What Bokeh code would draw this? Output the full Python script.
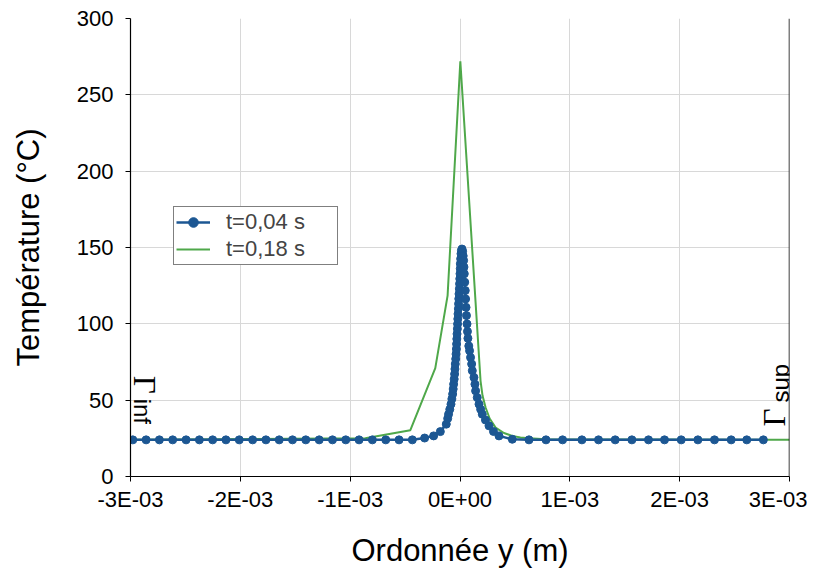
import numpy as np
from math import pi
from bokeh.plotting import figure
from bokeh.models import Range1d, Label, Legend, LegendItem, CustomJSTickFormatter, FixedTicker, Span
from bokeh.embed import file_html
from bokeh.resources import INLINE

# ---- data (position y in mm, temperature in °C) ----
y_blue_mm = [-2.979, -2.858, -2.737, -2.616, -2.494, -2.373, -2.252, -2.131, -2.010, -1.888,
             -1.767, -1.646, -1.525, -1.404, -1.282, -1.161, -1.040, -0.919, -0.798, -0.676,
             -0.555, -0.434, -0.322, -0.240, -0.179, -0.125,
             -0.112, -0.104, -0.093, -0.082, -0.074, -0.067, -0.062, -0.058, -0.053, -0.049,
             -0.046, -0.043, -0.039, -0.036, -0.033, -0.031, -0.029, -0.027, -0.024, -0.022,
             -0.020, -0.018, -0.015, -0.013, -0.011, -0.009, -0.006, -0.004, -0.002, 0.000,
             0.002, 0.003, 0.006, 0.009, 0.013, 0.018,
             0.024, 0.029, 0.033, 0.036, 0.039, 0.043, 0.048, 0.051, 0.055, 0.059,
             0.064, 0.068, 0.072, 0.080, 0.087, 0.096, 0.106, 0.112, 0.127, 0.136,
             0.142, 0.157, 0.173, 0.188, 0.203, 0.232, 0.264, 0.305, 0.355, 0.476,
             0.628, 0.783, 0.934, 1.110, 1.261, 1.413, 1.565, 1.716, 1.862, 2.014,
             2.166, 2.317, 2.469, 2.611, 2.762]
T_blue = [24, 24, 24, 24, 24, 24, 24, 24, 24, 24,
          24, 24, 24, 24, 24, 24, 24, 24, 24, 24,
          24, 24, 25.2, 26.6, 29.4, 34.3,
          38.0, 40.8, 44.0, 47.4, 50.8, 54.0, 57.3, 60.5, 63.8, 67.1,
          70.4, 73.7, 77.0, 80.2, 83.5, 86.8, 90.1, 93.4, 96.7, 99.9,
          103.2, 106.5, 109.8, 113.1, 116.4, 119.6, 122.9, 126.2, 129.5, 132.8,
          136.1, 139.3, 142.6, 145.9, 148.0, 149.0,
          147.5, 144.5, 141.5, 137.2, 132.8, 127.3, 121.8, 116.3, 110.8, 105.4,
          99.9, 95.0, 90.5, 85.5, 82.4, 78.0, 73.7, 69.3, 64.9, 60.5,
          56.1, 51.7, 47.4, 44.0, 40.8, 37.0, 33.2, 29.5, 26.6, 24.4,
          24, 24, 24, 24, 24, 24, 24, 24, 24, 24,
          24, 24, 24, 24, 24]

y_green_mm = [-3.0, -0.862, -0.452, -0.225, -0.113, 0.003, 0.187, 0.205, 0.233, 0.270,
              0.324, 0.400, 0.476, 0.550, 0.628, 0.780, 3.0]
T_green = [24, 25, 30.3, 71.0, 118.5, 272, 62.7, 53.0, 45.2, 38.0,
           32.0, 28.5, 26.6, 25.6, 25.1, 24.4, 24]

x_ticks = [-3e-3, -2e-3, -1e-3, 0.0, 1e-3, 2e-3, 3e-3]
y_ticks = [0, 50, 100, 150, 200, 250, 300]
labels = ["t=0,04 s", "t=0,18 s"]

y_blue = [v * 1e-3 for v in y_blue_mm]
y_green = [v * 1e-3 for v in y_green_mm]

BLUE = "#1c5793"
GREEN = "#4fa84a"
FONT = "Liberation Sans"

p = figure(width=807, height=570, output_backend="svg", toolbar_location=None,
           x_range=Range1d(-3e-3, 3e-3), y_range=Range1d(0, 300),
           min_border_left=130, min_border_right=18, min_border_top=18, min_border_bottom=94)

p.outline_line_color = None
p.background_fill_color = "white"
p.border_fill_color = "white"

g = p.line(y_green, T_green, line_color=GREEN, line_width=2)
bl = p.line(y_blue, T_blue, line_color=BLUE, line_width=2.5)
bs = p.scatter(y_blue, T_blue, size=8, fill_color=BLUE, line_color=BLUE)

p.xaxis.ticker = FixedTicker(ticks=x_ticks)
p.yaxis.ticker = FixedTicker(ticks=y_ticks)
p.xaxis.formatter = CustomJSTickFormatter(code="""
var s = tick.toExponential(0).toUpperCase();
var parts = s.split("E");
var e = parseInt(parts[1]);
var a = Math.abs(e);
return parts[0] + "E" + (e < 0 ? "-" : "+") + (a < 10 ? "0" : "") + a;
""")

for ax in (p.xaxis[0], p.yaxis[0]):
    ax.axis_line_color = "black"
    ax.axis_line_width = 1.2
    ax.major_tick_line_color = "black"
    ax.major_tick_out = 5
    ax.major_tick_in = 0
    ax.minor_tick_line_color = None
    ax.major_label_text_font = FONT
    ax.major_label_text_font_size = "22px"
    ax.major_label_text_color = "black"
    ax.axis_label_text_font = FONT
    ax.axis_label_text_font_size = "31px"
    ax.axis_label_text_font_style = "normal"
    ax.axis_label_text_color = "black"

p.xaxis.axis_label = "Ordonnée y (m)"
p.yaxis.axis_label = "Température (°C)"
p.xaxis.major_label_standoff = 5
p.yaxis.major_label_standoff = 12
p.xaxis.axis_label_standoff = 18
p.yaxis.axis_label_standoff = 28

p.xgrid.grid_line_color = "#d8d8d8"
p.ygrid.grid_line_color = "#d8d8d8"
p.xgrid.grid_line_width = 1
p.ygrid.grid_line_width = 1

# black right-hand border of the plot area
p.add_layout(Span(location=3e-3, dimension="height", line_color="black", line_width=1.5))

legend = Legend(items=[LegendItem(label=labels[0], renderers=[bl, bs]),
                       LegendItem(label=labels[1], renderers=[g])],
                location=(43, 211))
legend.border_line_color = "black"
legend.border_line_width = 1
legend.background_fill_color = "white"
legend.background_fill_alpha = 1
legend.label_text_font = FONT
legend.label_text_font_size = "22px"
legend.padding = 2
legend.spacing = 1
legend.label_height = 24
legend.glyph_height = 24
legend.glyph_width = 34
legend.label_standoff = 16
legend.label_width = 109
legend.margin = 0
p.add_layout(legend, "center")

# Gamma boundary labels (centre-anchored so the rotation keeps them in place)
def rot_label(x, y, text, angle, font, size):
    p.add_layout(Label(x=x, y=y, text=text, angle=angle, text_align="center",
                       text_baseline="middle", text_font=font,
                       text_font_size=size, text_color="black"))

rot_label(-2.873e-3, 60.1, "Γ", -pi / 2, "Liberation Serif", "31px")
rot_label(-2.895e-3, 42.7, "inf", -pi / 2, FONT, "24px")
rot_label(2.860e-3, 38.7, "Γ", pi / 2, "Liberation Serif", "31px")
rot_label(2.919e-3, 61.1, "sup", pi / 2, FONT, "24px")

open("out.html", "w").write(file_html(p, INLINE))
